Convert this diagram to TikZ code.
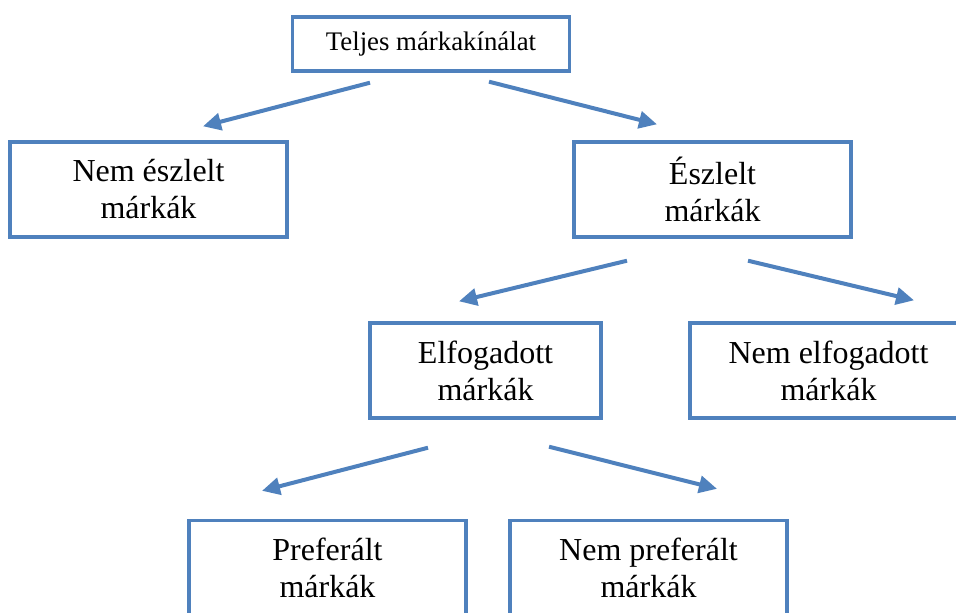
\documentclass[tikz,border=0pt]{standalone}
\usepackage{fontspec}
\setmainfont{Liberation Serif}
\usepackage{xcolor}
\usepackage{tikz}
\usetikzlibrary{arrows.meta,calc}
\definecolor{brandblue}{HTML}{4F81BD}
\tikzset{
  box/.style={draw=brandblue, line width=1.7pt, align=center,
              font=\fontsize{16}{18.5}\selectfont,
              minimum width=138.5pt, minimum height=47.5pt, inner sep=2pt},
  arr/.style={-{Triangle[length=9pt,width=8.5pt]}, line width=2pt, draw=brandblue},
}

\begin{document}
\begin{tikzpicture}[x=0.5pt, y=-0.5pt]
  \useasboundingbox (0,0) rectangle (956,612);
  \clip (0,0) rectangle (956,612);
  \node[box, minimum height=27pt, font=\fontsize{13.4}{16}\selectfont] (all) at (431,44) {Teljes márkakínálat};
  \node[box] (unaware) at (148.5,189.5) {Nem észlelt\\márkák};
  \node[box] (aware) at (712.5,189.5) {Észlelt\\márkák};
  \node[box, minimum width=115.5pt] (accepted) at (485.5,370.5) {Elfogadott\\márkák};
  \node[box] (rejected) at (828.5,370.5) {Nem elfogadott\\márkák};
  \node[box] (preferred) at (327.5,568) {Preferált\\márkák};
  \node[box] (notpref) at (648.5,568) {Nem preferált\\márkák};
  % arrows float between the boxes
  \draw[arr] ($(all.south)+(-61,10)$) -- ($(unaware.north)+(54.5,-14)$);
  \draw[arr] ($(all.south)+(58,9)$) -- ($(aware.north)+(-55.5,-16)$);
  \draw[arr] ($(aware.south)+(-85.5,22)$) -- ($(accepted.north)+(-26.5,-20)$);
  \draw[arr] ($(aware.south)+(35.5,22)$) -- ($(rejected.north)+(85.5,-21)$);
  \draw[arr] ($(accepted.south)+(-57.5,28)$) -- ($(preferred.north)+(-65.5,-28)$);
  \draw[arr] ($(accepted.south)+(63.5,27)$) -- ($(notpref.north)+(68.5,-30)$);
\end{tikzpicture}
\end{document}
